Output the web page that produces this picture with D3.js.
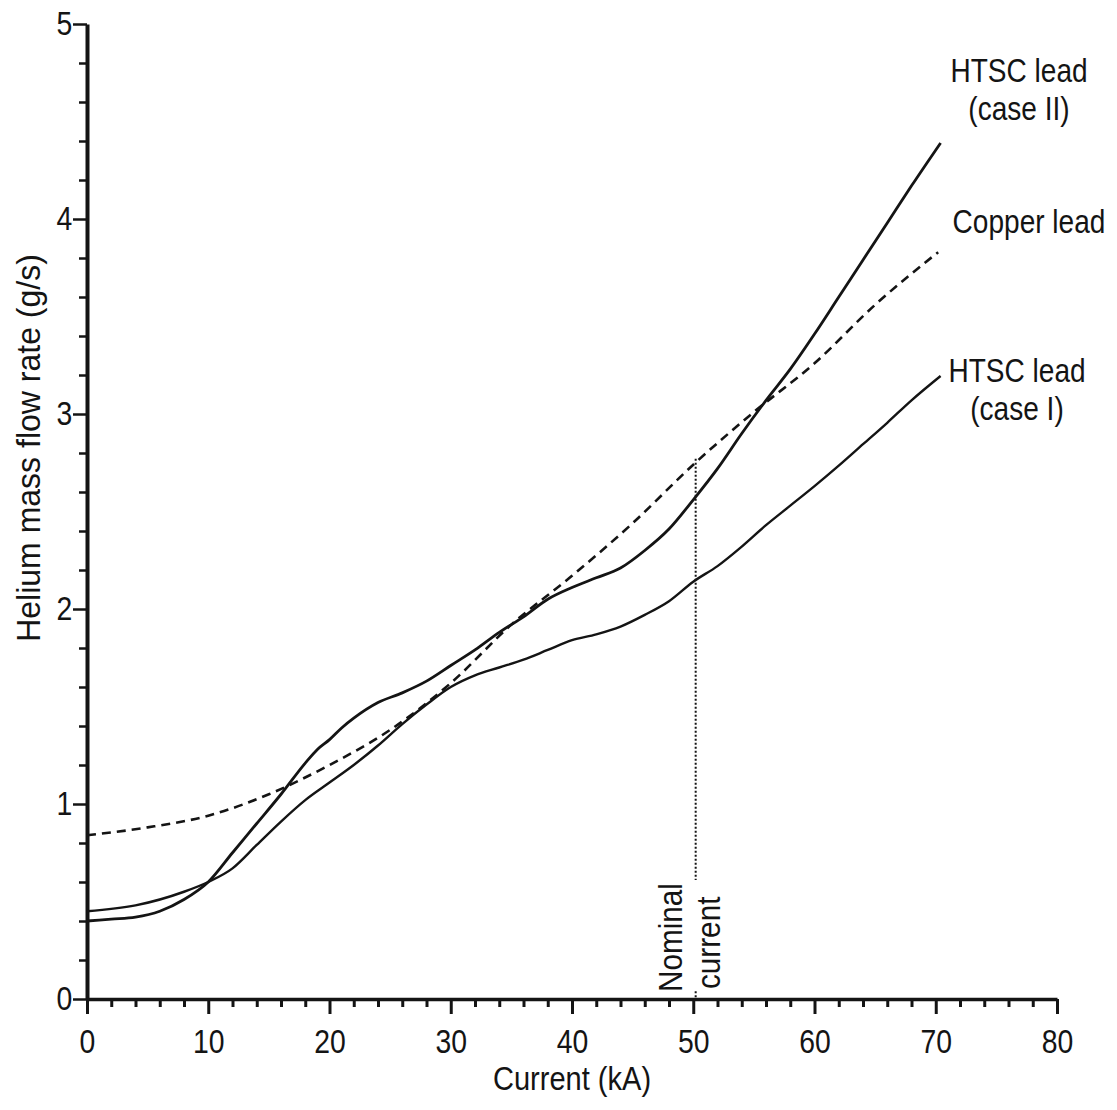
<!DOCTYPE html>
<html>
<head>
<meta charset="utf-8">
<script src="https://cdn.jsdelivr.net/npm/d3@7"></script>
<style>
  html, body { margin: 0; padding: 0; background: #fff; }
  svg text { font-family: "Liberation Sans", Arial, sans-serif; fill: #141414; }
</style>
</head>
<body>
<svg id="chart" width="1117" height="1110"></svg>
<script>
// ---------- data ----------
const xTickValues = [0, 10, 20, 30, 40, 50, 60, 70, 80];
const xTickLabels = ["0", "10", "20", "30", "40", "50", "60", "70", "80"];
const yTickValues = [0, 1, 2, 3, 4, 5];
const yTickLabels = ["0", "1", "2", "3", "4", "5"];
const xMinorStep = 2;
const yMinorStep = 0.2;

const copperCurrent = [0, 5, 10, 15, 20, 25, 30, 35, 40, 45, 50, 55, 60, 65, 70.2];
const copperFlow    = [0.84, 0.88, 0.94, 1.05, 1.20, 1.38, 1.62, 1.92, 2.17, 2.44, 2.74, 3.01, 3.26, 3.56, 3.83];

const case2Current = [0, 2, 4, 6, 8, 10, 12, 14, 16, 18, 19, 20, 21, 22, 24, 26, 28, 30, 32, 34, 36, 38, 40, 42, 44, 46, 48, 50, 52, 54, 56, 58, 60, 62, 64, 66, 68, 70.4];
const case2Flow    = [0.40, 0.41, 0.42, 0.45, 0.51, 0.60, 0.75, 0.90, 1.05, 1.21, 1.28, 1.33, 1.39, 1.44, 1.52, 1.57, 1.63, 1.71, 1.79, 1.88, 1.96, 2.05, 2.11, 2.16, 2.21, 2.30, 2.41, 2.56, 2.72, 2.90, 3.07, 3.23, 3.41, 3.60, 3.79, 3.98, 4.17, 4.39];

const case1Current = [0, 4, 8, 10, 12, 14, 16, 18, 20, 22, 24, 26, 28, 30, 32, 34, 36, 38, 40, 42, 44, 46, 48, 50, 52, 54, 56, 58, 60, 62, 64, 66, 68, 70.4];
const case1Flow    = [0.45, 0.48, 0.55, 0.60, 0.67, 0.79, 0.91, 1.02, 1.11, 1.20, 1.30, 1.41, 1.51, 1.60, 1.66, 1.70, 1.74, 1.79, 1.84, 1.87, 1.91, 1.97, 2.04, 2.14, 2.22, 2.32, 2.43, 2.53, 2.63, 2.735, 2.845, 2.955, 3.07, 3.195];

const nominalCurrent = 50.2;
const nominalTop = 2.77;

const xTitle = "Current (kA)";
const yTitle = "Helium mass flow rate (g/s)";

// ---------- drawing ----------
const ink = "#141414";
const svg = d3.select("#chart");
const x = d3.scaleLinear().domain([0, 80]).range([87, 1057]);
const y = d3.scaleLinear().domain([0, 5]).range([999, 24]);

const minorX = d3.range(0, 80 + 1e-9, xMinorStep).filter(v => !xTickValues.includes(Math.round(v)));
const minorY = d3.range(0, 5 + 1e-9, yMinorStep).map(v => +v.toFixed(1)).filter(v => !yTickValues.includes(v));

// minor ticks
svg.append("g").attr("transform", `translate(0,${y(0)})`)
  .call(d3.axisBottom(x).tickValues(minorX).tickSize(8).tickSizeOuter(0).tickFormat(""))
  .call(g => g.select(".domain").remove())
  .call(g => g.selectAll("line").attr("stroke", ink).attr("stroke-width", 3));
svg.append("g").attr("transform", `translate(${x(0)},0)`)
  .call(d3.axisLeft(y).tickValues(minorY).tickSize(8).tickSizeOuter(0).tickFormat(""))
  .call(g => g.select(".domain").remove())
  .call(g => g.selectAll("line").attr("stroke", ink).attr("stroke-width", 2.5));

// major x axis
svg.append("g").attr("transform", `translate(0,${y(0)})`)
  .call(d3.axisBottom(x).tickValues(xTickValues).tickSize(15).tickSizeOuter(0)
        .tickFormat((d, i) => xTickLabels[i]).tickPadding(16))
  .call(g => g.select(".domain").attr("stroke", ink).attr("stroke-width", 3.5))
  .call(g => g.selectAll("line").attr("stroke", ink).attr("stroke-width", 3))
  .call(g => g.selectAll("text").attr("font-size", 33).attr("fill", ink)
        .attr("transform", "scale(0.86,1)")
        .style("font-family", "'Liberation Sans', Arial, sans-serif"));

// major y axis
svg.append("g").attr("transform", `translate(${x(0)},0)`)
  .call(d3.axisLeft(y).tickValues(yTickValues).tickSize(14).tickSizeOuter(0)
        .tickFormat((d, i) => yTickLabels[i]).tickPadding(3))
  .call(g => g.select(".domain").attr("stroke", ink).attr("stroke-width", 4))
  .call(g => g.selectAll("line").attr("stroke", ink).attr("stroke-width", 2.5))
  .call(g => g.selectAll("text").attr("font-size", 33).attr("fill", ink)
        .attr("transform", "scale(0.86,1)")
        .style("font-family", "'Liberation Sans', Arial, sans-serif"));

// nominal current dotted line
svg.append("line")
  .attr("x1", x(nominalCurrent)).attr("x2", x(nominalCurrent))
  .attr("y1", y(nominalTop)).attr("y2", y(0.61))
  .attr("stroke", ink).attr("stroke-width", 2).attr("stroke-dasharray", "2,2");
svg.append("line")
  .attr("x1", x(nominalCurrent)).attr("x2", x(nominalCurrent))
  .attr("y1", y(0.04)).attr("y2", y(0))
  .attr("stroke", ink).attr("stroke-width", 2).attr("stroke-dasharray", "2,2");

// curves
const line = d3.line().x(d => x(d[0])).y(d => y(d[1])).curve(d3.curveMonotoneX);
const series = [
  { xs: copperCurrent, ys: copperFlow, dash: "9,6", w: 2.6 },
  { xs: case2Current, ys: case2Flow, dash: null, w: 2.8 },
  { xs: case1Current, ys: case1Flow, dash: null, w: 2.4 }
];
series.forEach(s => {
  svg.append("path")
    .datum(s.xs.map((v, i) => [v, s.ys[i]]))
    .attr("d", line)
    .attr("fill", "none")
    .attr("stroke", ink)
    .attr("stroke-width", s.w)
    .attr("stroke-linejoin", "round")
    .attr("stroke-dasharray", s.dash);
});

// text helper: narrowed text via horizontal scale
function addText(tx, ty, str, opts = {}) {
  const sx = opts.sx ?? 0.86;
  const rot = opts.rotate ? ` rotate(${opts.rotate})` : "";
  svg.append("text")
    .attr("transform", `translate(${tx},${ty})${rot} scale(${sx},1)`)
    .attr("text-anchor", opts.anchor || "start")
    .attr("font-size", opts.size || 33)
    .text(str);
}

// axis titles
addText(572, 1090, xTitle, { anchor: "middle", sx: 0.88 });
addText(40, 448, yTitle, { anchor: "middle", rotate: -90, sx: 0.97 });

// nominal current label
addText(682, 992, "Nominal", { rotate: -90, sx: 0.9 });
addText(720, 989, "current", { rotate: -90, sx: 0.9 });

// series labels
const labels = [
  { lines: ["HTSC lead", "(case II)"], cx: 1019, y0: 82 },
  { lines: ["Copper lead"], cx: 1029, y0: 233 },
  { lines: ["HTSC lead", "(case I)"], cx: 1017, y0: 382 }
];
labels.forEach(l => {
  l.lines.forEach((t, i) => addText(l.cx, l.y0 + i * 38, t, { anchor: "middle", sx: 0.85 }));
});
</script>
</body>
</html>
